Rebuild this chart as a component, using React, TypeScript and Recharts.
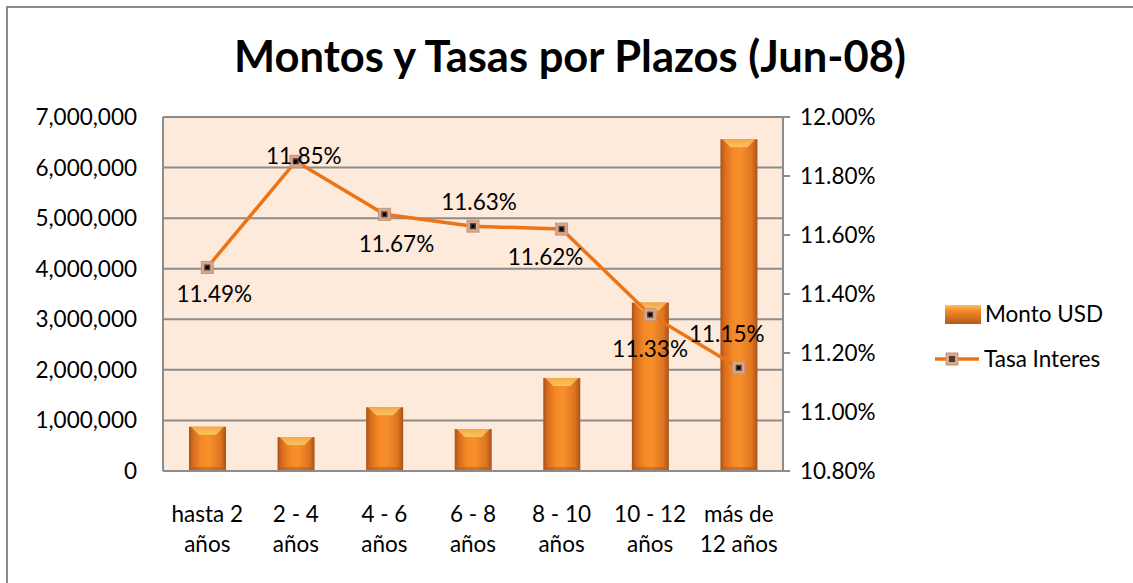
import React from 'react';
import { ComposedChart, Bar, Line, XAxis, YAxis, CartesianGrid, LabelList, Legend } from 'recharts';

const categories = [
  'hasta 2\naños',
  '2 - 4\naños',
  '4 - 6\naños',
  '6 - 8\naños',
  '8 - 10\naños',
  '10 - 12\naños',
  'más de\n12 años',
];
const montoUSD = [875000, 670000, 1260000, 830000, 1840000, 3330000, 6560000];
const tasaInteres = [11.49, 11.85, 11.67, 11.63, 11.62, 11.33, 11.15];
const leftTicks = [0, 1000000, 2000000, 3000000, 4000000, 5000000, 6000000, 7000000];
const rightTicks = [10.8, 11.0, 11.2, 11.4, 11.6, 11.8, 12.0];

// label placement relative to each point (as dragged in the original)
const labelOffsets: [number, number][] = [
  [7, 35],
  [8, 3],
  [12, 38],
  [6, -16],
  [-16, 36],
  [0, 42],
  [-12, -26],
];

const data = categories.map((c, i) => ({ name: c, monto: montoUSD[i], tasa: tasaInteres[i] }));

const FONT = "Lato, 'Open Sans', sans-serif";
const FS = 22.5;
const GRAY = '#8c8c8c';

const BevelBar = (props: any) => {
  const { x, y, width, height, index } = props;
  if (!height || height <= 0) return null;
  const b = Math.min(8, height / 2, width / 2);
  const id = `bb${index}`;
  return (
    <g>
      <defs>
        <linearGradient id={`${id}h`} x1="0" y1="0" x2="1" y2="0">
          <stop offset="0%" stopColor="#a9521a" />
          <stop offset="12%" stopColor="#d86e1e" />
          <stop offset="35%" stopColor="#f58a26" />
          <stop offset="55%" stopColor="#f6902c" />
          <stop offset="85%" stopColor="#dd7420" />
          <stop offset="100%" stopColor="#a9521a" />
        </linearGradient>
        <linearGradient id={`${id}t`} x1="0" y1="0" x2="0" y2="1">
          <stop offset="0%" stopColor="#f5a848" />
          <stop offset="100%" stopColor="#fcc45e" />
        </linearGradient>
      </defs>
      <rect x={x} y={y} width={width} height={height} fill={`url(#${id}h)`} />
      <polygon
        points={`${x + 2},${y} ${x + width - 2},${y} ${x + width - b - 2},${y + b} ${x + b + 2},${y + b}`}
        fill={`url(#${id}t)`}
      />
      <polygon
        points={`${x},${y + height} ${x + width},${y + height} ${x + width - 4},${y + height - 4} ${x + 4},${y + height - 4}`}
        fill="#b45a1c"
        opacity={0.55}
      />
    </g>
  );
};

const SquareDot = (props: any) => {
  const { cx, cy, index } = props;
  if (cx == null || cy == null) return null;
  return (
    <g key={`d${index}`}>
      <rect x={cx - 6} y={cy - 6} width={12} height={12} fill="#d8a68a" stroke="#c89478" strokeWidth={1} />
      <rect x={cx - 3} y={cy - 3} width={6} height={6} fill="#4a3a32" />
      <rect x={cx - 1.5} y={cy - 1.5} width={3} height={3} fill="#000" />
    </g>
  );
};

const PointLabel = (props: any) => {
  const { x, y, value, index } = props;
  const [dx, dy] = labelOffsets[index] || [0, 0];
  return (
    <text x={x + dx} y={y + dy} textAnchor="middle" fontSize={FS} fontFamily={FONT} fill="#000">
      {Number(value).toFixed(2)}%
    </text>
  );
};

const XTick = (props: any) => {
  const { x, y, payload } = props;
  const lines = String(payload.value).split('\n');
  return (
    <text x={x} y={y + 51} textAnchor="middle" fontSize={FS} fontFamily={FONT} fill="#000">
      {lines.map((l, i) => (
        <tspan key={i} x={x} dy={i === 0 ? 0 : 30}>
          {l}
        </tspan>
      ))}
    </text>
  );
};

const LegendContent = () => (
  <svg width={200} height={80} style={{ overflow: 'visible' }}>
    <defs>
      <linearGradient id="lgb" x1="0" y1="0" x2="0" y2="1">
        <stop offset="0%" stopColor="#fcc45e" />
        <stop offset="30%" stopColor="#f58a26" />
        <stop offset="100%" stopColor="#b45a1c" />
      </linearGradient>
    </defs>
    <rect x={0} y={7} width={36} height={19} fill="url(#lgb)" />
    <text x={40} y={16} dy="0.35em" fontSize={FS} fontFamily={FONT} fill="#000">
      Monto USD
    </text>
    <line x1={-10} y1={61} x2={34} y2={61} stroke="#ec7416" strokeWidth={3.5} />
    <rect x={1} y={55} width={12} height={12} fill="#d8a68a" stroke="#c89478" strokeWidth={1} />
    <rect x={4} y={58} width={6} height={6} fill="#4a3a32" />
    <text x={39} y={61} dy="0.35em" fontSize={FS} fontFamily={FONT} fill="#000">
      Tasa Interes
    </text>
  </svg>
);

export default function App() {
  return (
    <div
      style={{
        position: 'absolute',
        left: 6,
        top: 6,
        width: 1125,
        height: 575,
        borderTop: `2px solid ${GRAY}`,
        borderLeft: `2px solid ${GRAY}`,
        background: '#fff',
        fontFamily: FONT,
      }}
    >
      <svg width={1125} height={100} style={{ position: 'absolute', left: 0, top: 0 }}>
        <text x={562} y={64} textAnchor="middle" fontSize={43.5} fontWeight="bold" fontFamily={FONT} fill="#000">
          Montos y Tasas por Plazos (Jun-08)
        </text>
      </svg>
      <ComposedChart width={1125} height={575} data={data} margin={{ top: 109, right: 240, bottom: 0, left: 0 }}>
        <CartesianGrid yAxisId="left" vertical={false} fill="#fdeadb" stroke={GRAY} strokeWidth={2} />
        <XAxis
          dataKey="name"
          height={112}
          interval={0}
          tick={<XTick />}
          tickLine={false}
          tickSize={0}
          tickMargin={0}
          axisLine={{ stroke: GRAY, strokeWidth: 2 }}
        />
        <YAxis
          yAxisId="left"
          width={155}
          domain={[0, 7000000]}
          ticks={leftTicks}
          tickFormatter={(v: number) => v.toLocaleString('en-US')}
          tick={{ fontSize: FS, fontFamily: FONT, fill: '#000' }}
          tickLine={false}
          tickSize={0}
          tickMargin={26}
          axisLine={{ stroke: GRAY, strokeWidth: 2 }}
        />
        <YAxis
          yAxisId="right"
          orientation="right"
          width={110}
          domain={[10.8, 12.0]}
          ticks={rightTicks}
          tickFormatter={(v: number) => v.toFixed(2) + '%'}
          tick={{ fontSize: FS, fontFamily: FONT, fill: '#000' }}
          tickLine={{ stroke: GRAY, strokeWidth: 2 }}
          tickSize={7}
          tickMargin={10}
          axisLine={{ stroke: GRAY, strokeWidth: 2 }}
        />
        <Legend
          layout="vertical"
          align="center"
          verticalAlign="middle"
          content={<LegendContent />}
          wrapperStyle={{ left: 937, top: 290, width: 200 }}
        />
        <Bar yAxisId="left" dataKey="monto" name="Monto USD" barSize={37} shape={<BevelBar />} isAnimationActive={false} />
        <Line
          yAxisId="right"
          dataKey="tasa"
          name="Tasa Interes"
          stroke="#ec7416"
          strokeWidth={3.5}
          dot={<SquareDot />}
          activeDot={false}
          isAnimationActive={false}
        >
          <LabelList dataKey="tasa" content={<PointLabel />} />
        </Line>
      </ComposedChart>
    </div>
  );
}
